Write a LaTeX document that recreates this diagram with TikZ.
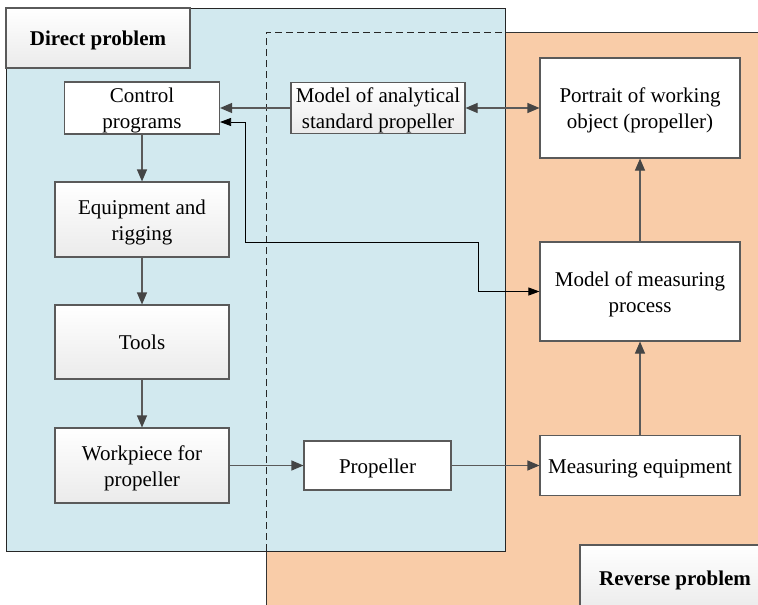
\documentclass[tikz,border=0pt]{standalone}
\usepackage{fontspec}
\setmainfont{Liberation Serif}
\usetikzlibrary{arrows.meta}

\definecolor{directbg}{HTML}{D2E9EF}
\definecolor{reversebg}{HTML}{F9CCA8}
\definecolor{boxline}{HTML}{5A5A5A}
\definecolor{tipgray}{HTML}{454545}

% struts that centre a line the way the boxes of the drawing do
\newcommand{\topstrut}{\rule{0pt}{20.5pt}}
\newcommand{\botstrut}{\rule[-5pt]{0pt}{5pt}}

\tikzset{
  block/.style={draw=boxline, line width=1.1pt, fill=white, align=center,
    inner sep=0pt, font=\fontsize{21}{26}\selectfont},
  shadedblock/.style={block, top color=white, bottom color=black!8},
  titleblock/.style={shadedblock, font=\fontsize{21}{26}\selectfont\bfseries},
  flow/.style={draw=boxline, line width=1.1pt,
    -{Triangle[length=12pt,width=10pt,fill=tipgray,color=tipgray]}},
  twoflow/.style={flow,
    {Triangle[length=12pt,width=10pt,fill=tipgray,color=tipgray]}-{Triangle[length=12pt,width=10pt,fill=tipgray,color=tipgray]}},
  feedback/.style={draw=black, line width=0.8pt,
    {Triangle[length=11pt,width=8pt]}-{Triangle[length=11pt,width=8pt]}},
}

\begin{document}
\begin{tikzpicture}[x=1pt,y=-1pt]
		\useasboundingbox (0,0) rectangle (758,605);
		% the two problem areas
		\fill[reversebg] (266,32) rectangle (770,620);
		\draw[line width=1pt, black!80] (266,620) -- (266,32) -- (770,32);
		\draw[line width=1pt, black!85, fill=directbg] (6,8) rectangle (505,551);
		\draw[line width=1pt, black!85, dash pattern=on 7pt off 4pt] (266,551) -- (266,32) -- (505,32);

		\node[titleblock, minimum width=184pt, minimum height=60pt] (direct) at (98,38) {\topstrut Direct problem\botstrut};
		\node[titleblock, minimum width=190pt, minimum height=66pt] (reverse) at (675,578) {\topstrut Reverse problem\botstrut};

		% direct chain
		\node[block, minimum width=155pt, minimum height=52pt] (ctrl) at (142,108) {\topstrut Control\\programs\botstrut};
		\node[shadedblock, minimum width=174pt, minimum height=75pt] (equip) at (142,219.5) {\topstrut Equipment and\\rigging\botstrut};
		\node[shadedblock, minimum width=174pt, minimum height=74pt] (tools) at (142,342) {\topstrut Tools\botstrut};
		\node[shadedblock, minimum width=174pt, minimum height=75pt] (workpiece) at (142,465.5) {\topstrut Workpiece for\\propeller\botstrut};
		\node[shadedblock, minimum width=174pt, minimum height=51pt] (analyt) at (378,108) {\topstrut Model of analytical\\standard propeller\botstrut};
		\node[block, minimum width=147pt, minimum height=49pt] (prop) at (377.5,465.5) {\topstrut Propeller\botstrut};

		% reverse chain
		\node[block, minimum width=200pt, minimum height=100pt] (portrait) at (640,108) {\topstrut Portrait of working\\object (propeller)\botstrut};
		\node[block, minimum width=200pt, minimum height=99pt] (mproc) at (640,291.5) {\topstrut Model of measuring\\process\botstrut};
		\node[block, minimum width=200pt, minimum height=60pt] (meqp) at (640,465.5) {\topstrut Measuring equipment\botstrut};

		\coordinate (fbA) at (478,242);
		\coordinate (fbB) at (245,122);

		\draw[flow] (analyt) -- (ctrl);
		\draw[twoflow] (analyt) -- (portrait);
		\draw[flow] (ctrl) -- (equip);
		\draw[flow] (equip) -- (tools);
		\draw[flow] (tools) -- (workpiece);
		\draw[flow] (workpiece) -- (prop);
		\draw[flow] (prop) -- (meqp);
		\draw[flow] (meqp) -- (mproc);
		\draw[flow] (mproc) -- (portrait);
		\draw[feedback] (mproc.west) -| (fbA) -| (fbB) -- (ctrl.east |- fbB);
	\end{tikzpicture}
\end{document}
